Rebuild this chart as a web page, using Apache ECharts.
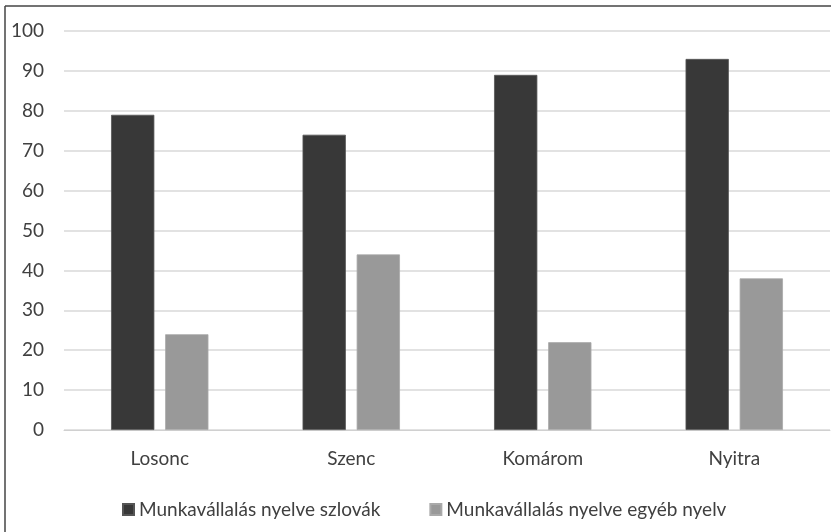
<!DOCTYPE html>
<html><head><meta charset="utf-8">
<script src="https://cdn.jsdelivr.net/npm/echarts@6/dist/echarts.min.js"></script>
<style>html,body{margin:0;padding:0;background:#fff}#c{width:831px;height:532px}</style>
</head><body><div id="c"></div>
<script>
const categories = ['Losonc', 'Szenc', 'Komárom', 'Nyitra'];
const seriesNames = ['Munkavállalás nyelve szlovák', 'Munkavállalás nyelve egyéb nyelv'];
const slovak = [79, 74, 89, 93];
const other = [24, 44, 22, 38];
const yTicks = { min: 0, max: 100, interval: 10 };

const chart = echarts.init(document.getElementById('c'), null, { renderer: 'canvas' });
const font = 'Lato, "Open Sans", sans-serif';
chart.setOption({
  animation: false,
  backgroundColor: '#fff',
  graphic: [
    { type: 'line', shape: { x1: 5, y1: 6, x2: 5, y2: 532 }, style: { stroke: '#444', lineWidth: 1.5 } },
    { type: 'line', shape: { x1: 5, y1: 6, x2: 831, y2: 6 }, style: { stroke: '#444', lineWidth: 1.5 } }
  ],
  grid: { left: 64, right: 1, top: 31, bottom: 102 },
  legend: {
    top: 495, left: 117,
    itemWidth: 11, itemHeight: 11, itemGap: 49,
    icon: 'rect',
    textStyle: { fontFamily: font, fontSize: 19, color: '#404040' },
    data: seriesNames
  },
  xAxis: {
    type: 'category', data: categories,
    axisLine: { lineStyle: { color: '#d0d0d0', width: 1 } },
    axisTick: { show: false },
    axisLabel: { fontFamily: font, fontSize: 19, color: '#404040', margin: 19 }
  },
  yAxis: {
    type: 'value', min: yTicks.min, max: yTicks.max, interval: yTicks.interval,
    axisLine: { show: false }, axisTick: { show: false },
    splitLine: { lineStyle: { color: '#d9d9d9', width: 1.5 } },
    axisLabel: { fontFamily: font, fontSize: 19, color: '#404040', margin: 20 }
  },
  series: [
    { name: seriesNames[0], type: 'bar', data: slovak, barWidth: '22.6%', barGap: '25%',
      itemStyle: { color: '#383838', borderColor: '#555', borderWidth: 0.8 } },
    { name: seriesNames[1], type: 'bar', data: other, barWidth: '22.6%', barGap: '25%',
      itemStyle: { color: '#999999', borderColor: '#aaa', borderWidth: 0.8 } }
  ]
});
</script></body></html>
